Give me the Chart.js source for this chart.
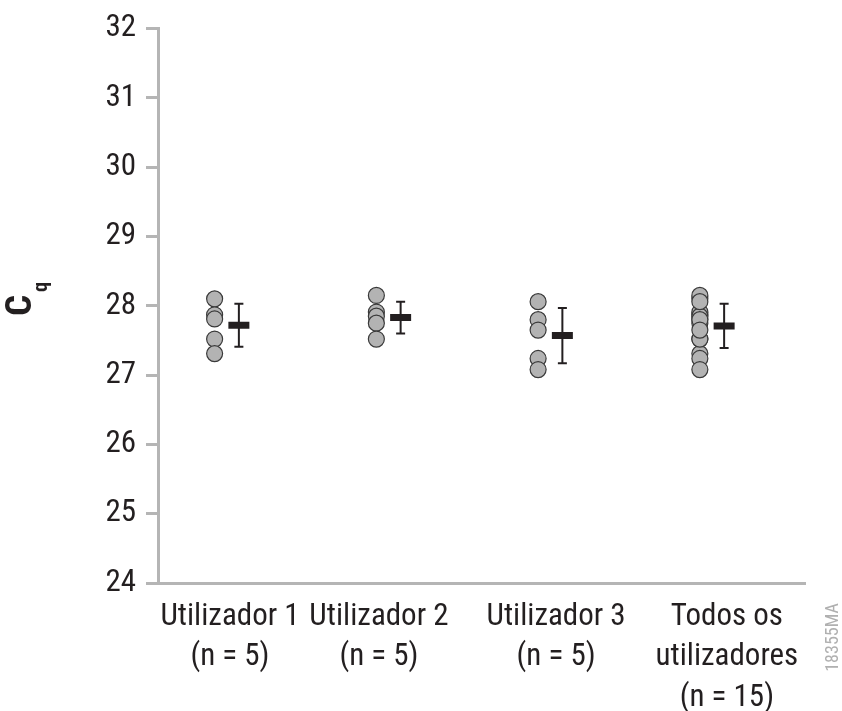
<!DOCTYPE html>
<html>
<head>
<meta charset="utf-8">
<script src="https://cdn.jsdelivr.net/npm/chart.js@4/dist/chart.umd.min.js"></script>
<style>
  body { margin: 0; background: #fff; }
  #wrap { width: 842px; height: 711px; position: relative; }
</style>
</head>
<body>
<div id="wrap"><canvas id="cqChart"></canvas></div>
<script>
// dados
const categories = [
    ['Utilizador 1', '(n = 5)'],
    ['Utilizador 2', '(n = 5)'],
    ['Utilizador 3', '(n = 5)'],
    ['Todos os', 'utilizadores', '(n = 15)']
];
const user1 = [28.10, 27.87, 27.81, 27.52, 27.31];
const user2 = [28.15, 27.91, 27.85, 27.75, 27.52];
const user3 = [28.06, 27.80, 27.65, 27.24, 27.08];
const allUsers = [...user1, ...user2, ...user3];
const groups = [user1, user2, user3, allUsers];
const means = [27.72, 27.83, 27.57, 27.71];
const sds = [0.31, 0.23, 0.40, 0.32];
const yMin = 24, yMax = 32;

// layout
const pointOffset = -0.15;
const labelShift = [-0.055, -0.134, -0.039, 0.017];
const FONT = "'Liberation Sans Narrow', 'Roboto Condensed', Roboto, sans-serif";
const INK = '#231f20';
const AXIS = '#b5b5b5';

Chart.defaults.font.family = FONT;
Chart.defaults.color = INK;

const pointData = groups.flatMap((vals, i) =>
    vals.map(v => ({ x: i + 0.5 + pointOffset, y: v })));

const errorSets = means.map((m, i) => ({
    label: 'sd' + i,
    data: [{ x: i + 0.5, y: m - sds[i] }, { x: i + 0.5, y: m + sds[i] }],
    showLine: true,
    borderColor: INK,
    borderWidth: 2,
    pointStyle: 'line',
    pointRadius: 4.5,
    pointBorderWidth: 2,
    pointBorderColor: INK,
    order: 1
}));

const titlePlugin = {
    id: 'cqTitle',
    afterDraw(chart) {
        const ctx = chart.ctx;
        ctx.save();
        ctx.fillStyle = INK;
        ctx.translate(21.7, 305.5);
        ctx.rotate(-Math.PI / 2);
        ctx.textAlign = 'center';
        ctx.textBaseline = 'middle';
        ctx.font = 'bold 37px ' + FONT;
        ctx.fillText('C', 0, 0);
        ctx.textBaseline = 'alphabetic';
        ctx.font = 'bold 20px ' + FONT;
        ctx.fillText('q', 18.5, 25.6);
        ctx.restore();

        ctx.save();
        ctx.fillStyle = '#b0b0b0';
        ctx.translate(833.5, 637.5);
        ctx.rotate(-Math.PI / 2);
        ctx.textAlign = 'center';
        ctx.textBaseline = 'middle';
        ctx.font = '18px ' + FONT;
        ctx.fillText('18355MA', 0, 0);
        ctx.restore();
    }
};

new Chart(document.getElementById('cqChart'), {
    type: 'scatter',
    data: {
        datasets: [
            {
                label: 'média',
                data: means.map((m, i) => ({ x: i + 0.5, y: m })),
                pointStyle: 'line',
                pointRadius: 10.5,
                pointBorderWidth: 7,
                pointBorderColor: INK,
                order: 0
            },
            ...errorSets,
            {
                label: 'Cq',
                data: pointData,
                pointRadius: 8,
                pointBackgroundColor: '#b3b3b3',
                pointBorderColor: '#3a3a3a',
                pointBorderWidth: 1.2,
                order: 2
            }
        ]
    },
    options: {
        responsive: true,
        maintainAspectRatio: false,
        animation: false,
        events: [],
        layout: { padding: { top: 26, right: 37, left: 0, bottom: 0 } },
        plugins: { legend: { display: false }, tooltip: { enabled: false } },
        scales: {
            x: {
                type: 'linear',
                min: 0,
                max: categories.length,
                afterBuildTicks: scale => {
                    scale.ticks = categories.map((c, i) => ({ value: i + 0.5 + labelShift[i] }));
                },
                afterFit: scale => { scale.height = 128; },
                grid: { drawOnChartArea: false, drawTicks: false },
                border: { color: AXIS, width: 3 },
                ticks: {
                    autoSkip: false,
                    maxRotation: 0,
                    padding: 14,
                    color: INK,
                    font: { size: 31, lineHeight: 1.3 },
                    callback: (value, index) => categories[index]
                }
            },
            y: {
                min: yMin,
                max: yMax,
                afterFit: scale => { scale.width = 158; },
                grid: { drawOnChartArea: false, drawTicks: true, tickLength: 12, color: AXIS, lineWidth: 3 },
                border: { color: AXIS, width: 3 },
                ticks: { stepSize: 1, padding: 10, color: INK, font: { size: 31 } }
            }
        }
    },
    plugins: [titlePlugin]
});
</script>
</body>
</html>
